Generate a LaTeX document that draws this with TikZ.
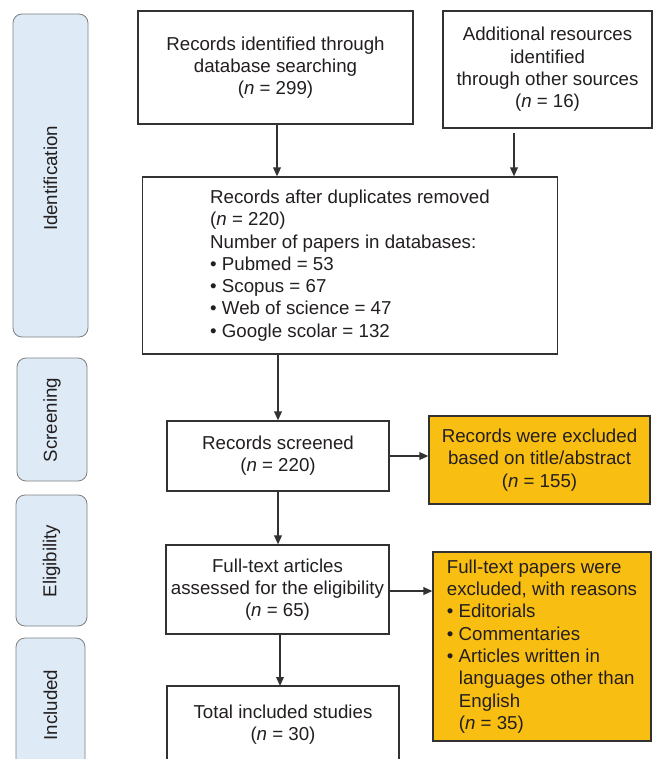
\documentclass[tikz,border=0pt]{standalone}
\usepackage{fontspec}
\setmainfont{Liberation Sans}
\usetikzlibrary{arrows.meta}
\definecolor{stagefill}{RGB}{222,235,247}
\definecolor{stageline}{RGB}{128,128,128}
\definecolor{excfill}{RGB}{249,190,18}
\definecolor{boxline}{RGB}{50,50,50}
\definecolor{inktext}{RGB}{35,31,32}
\tikzset{
  stage/.style={draw=stageline, fill=stagefill, rounded corners=9pt,
                line width=0.8pt},
  stagetext/.style={rotate=90, text=inktext,
                    font=\fontsize{18.7}{22}\selectfont},
  flowbox/.style={draw=boxline, fill=white, line width=1.1pt, align=center,
                  inner sep=0pt, text=inktext,
                  font=\fontsize{18.7}{22.3}\selectfont},
  excbox/.style={flowbox, fill=excfill},
  flowarrow/.style={-{Triangle[length=9pt,width=7.5pt]}, line width=1.8pt,
                    draw=boxline}
}
\newcommand{\nval}[1]{(\textit{n} = #1)}
\begin{document}
\begin{tikzpicture}[x=1pt, y=-1pt]
  \clip (0,0) rectangle (661,759);
  \fill[white] (0,0) rectangle (661,759);

  % ---- Stage labels down the left ----
  \draw[stage] (13,14)  rectangle (88,337);
  \draw[stage] (17,358) rectangle (87,481);
  \draw[stage] (16,495) rectangle (87,626);
  \draw[stage] (16,638) rectangle (85,800);
  \node[stagetext] (lid)  at (50.5,178.5) {Identification};
  \node[stagetext] (lscr) at (52,420)     {Screening};
  \node[stagetext] (lelg) at (51.5,561)   {Eligibility};
  \node[stagetext] (linc) at (50.5,705)   {Included};

  % ---- Flow boxes ----
  \node[flowbox, minimum width=275pt, minimum height=113pt] (db)
    at (275.5,67.5) {Records identified through\\database searching\\\nval{299}};
  \node[flowbox, minimum width=209pt, minimum height=117pt] (other)
    at (547.5,69.5) {Additional resources\\identified\\through other sources\\\nval{16}};
  \node[flowbox, minimum width=415pt, minimum height=177pt, align=left] (dup)
    at (350,265.5) {Records after duplicates removed\\\nval{220}\\
      Number of papers in databases:\\\textbullet\ Pubmed = 53\\
      \textbullet\ Scopus = 67\\\textbullet\ Web of science = 47\\
      \textbullet\ Google scolar = 132};
  \node[flowbox, minimum width=222pt, minimum height=70pt] (scr)
    at (278,456) {Records screened\\\nval{220}};
  \node[excbox, minimum width=221pt, minimum height=88pt] (exc1)
    at (539.5,460) {Records were excluded\\based on title/abstract\\\nval{155}};
  \node[flowbox, minimum width=223pt, minimum height=89pt] (full)
    at (277.5,589.5) {Full-text articles\\assessed for the eligibility\\\nval{65}};
  \node[excbox, minimum width=218pt, minimum height=189pt, align=left] (exc2)
    at (542,646.5) {Full-text papers were\\excluded, with reasons\\
      \textbullet\ Editorials\\\textbullet\ Commentaries\\
      \textbullet\ Articles written in\\\hspace*{12pt}languages other than\\
      \hspace*{12pt}English\\\hspace*{12pt}\nval{35}};
  \node[flowbox, minimum width=232pt, minimum height=77pt] (incl)
    at (283,724.5) {Total included studies\\\nval{30}};

  % ---- Connectors ----
  \coordinate (dbout)    at (277,124);
  \coordinate (otherout) at (514,133);
  \coordinate (fullout)  at (389,591);
  \coordinate (inclin)   at (280,686);
  \draw[flowarrow] (dbout) -- (dbout |- dup.north);
  \draw[flowarrow] (otherout) -- (otherout |- dup.north);
  \draw[flowarrow] (scr.north |- dup.south) -- (scr.north);
  \draw[flowarrow] (scr.south) -- (scr.south |- full.north);
  \draw[flowarrow] (scr.east) -- (scr.east -| exc1.west);
  \draw[flowarrow] (fullout) -- (fullout -| exc2.west);
  \draw[flowarrow] (inclin |- full.south) -- (inclin);
\end{tikzpicture}
\end{document}
